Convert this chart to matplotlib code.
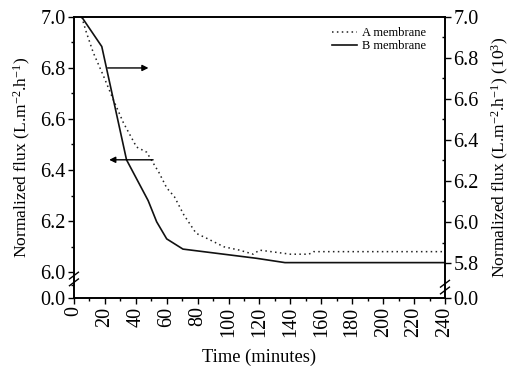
import matplotlib
matplotlib.use("Agg")
import matplotlib.pyplot as plt
import numpy as np

plt.rcParams['font.family'] = ['Liberation Serif', 'DejaVu Serif']
plt.rcParams['mathtext.fontset'] = 'custom'
plt.rcParams['mathtext.rm'] = 'Liberation Serif'
plt.rcParams['mathtext.it'] = 'Liberation Serif:italic'
plt.rcParams['font.size'] = 11

# data (normalized flux)
t_a = [5, 8, 12.5, 19, 25.5, 32, 40.5, 47, 55, 60, 65, 71, 79, 86, 97, 107, 116, 120, 140, 152, 155, 240]
flux_a = [7.0, 6.94, 6.86, 6.77, 6.675, 6.585, 6.49, 6.47, 6.39, 6.33, 6.295, 6.225, 6.152, 6.132,
          6.099, 6.086, 6.07, 6.086, 6.07, 6.07, 6.08, 6.08]
t_b = [5, 18, 34, 48, 53.5, 60, 70.5, 118, 136.5, 240]
flux_b = [7.0, 6.884, 6.44, 6.28, 6.197, 6.13, 6.09, 6.054, 6.037, 6.037]

x_ticks = np.arange(0, 241, 20)
left_ticks = [6.0, 6.2, 6.4, 6.6, 6.8, 7.0]
right_ticks = [5.8, 6.0, 6.2, 6.4, 6.6, 6.8, 7.0]

# axis break: the 0.0 tick sits just below the 6.0 (left) / 5.8 (right) tick
LEFT_ZERO = 5.898
RIGHT_ZERO = 5.629

fig = plt.figure(figsize=(5.1, 3.68), dpi=100)
ax = fig.add_axes([0.145, 0.19, 0.7275, 0.764])

ax.plot(t_a, flux_a, color='#222222', linestyle=(0, (1, 2.2)), linewidth=1.1, label='A membrane')
ax.plot(t_b, flux_b, color='#111111', linestyle='-', linewidth=1.2, label='B membrane')

ax.set_xlim(0, 240)
ax.set_ylim(LEFT_ZERO, 7.0)
ax.set_xticks(x_ticks)
ax.set_xticklabels([str(v) for v in x_ticks], rotation=90)
ax.set_xticks(np.arange(10, 240, 20), minor=True)
ax.set_yticks([LEFT_ZERO] + left_ticks)
ax.set_yticklabels(['0.0'] + ['%.1f' % v for v in left_ticks])
ax.set_yticks([5.95] + list(np.arange(6.1, 7.0, 0.2)), minor=True)
ax.tick_params(axis='both', which='major', direction='out', length=4, width=1, labelsize=14.5, pad=2)
ax.tick_params(axis='both', which='minor', direction='out', length=2.5, width=1)
for s in ax.spines.values():
    s.set_linewidth(1.2)

ax.set_xlabel('Time (minutes)', fontsize=13.3, labelpad=9)
ax.set_ylabel('Normalized flux (L.m$^{-2}$.h$^{-1}$)', fontsize=12.6, labelpad=5)

ax2 = ax.twinx()
ax2.set_ylim(RIGHT_ZERO, 7.0)
ax2.set_yticks([RIGHT_ZERO] + right_ticks)
ax2.set_yticklabels(['0.0'] + ['%.1f' % v for v in right_ticks])
ax2.set_yticks(list(np.arange(5.9, 7.0, 0.2)), minor=True)
ax2.tick_params(axis='y', which='major', direction='out', length=4, width=1, labelsize=14.5, pad=2)
ax2.tick_params(axis='y', which='minor', direction='in', length=2.5, width=1)
ax2.set_ylabel('Normalized flux (L.m$^{-2}$.h$^{-1}$) (10$^{3}$)', fontsize=12.6, labelpad=8)
for s in ax2.spines.values():
    s.set_linewidth(1.2)

# break marks on the spines
def break_mark(xa, ya):
    for dy in (-0.012, 0.012):
        ax.plot([xa - 0.012, xa + 0.012], [ya + dy - 0.012, ya + dy + 0.012],
                transform=ax.transAxes, color='black', lw=1.0, clip_on=False)

break_mark(0.0, 0.068)
break_mark(1.0, 0.039)

# arrows to the axes
ax.annotate('', xy=(50, 6.80), xytext=(20, 6.80),
            arrowprops=dict(arrowstyle='-|>', color='black', lw=1.0, mutation_scale=9))
ax.annotate('', xy=(21, 6.44), xytext=(53, 6.44),
            arrowprops=dict(arrowstyle='-|>', color='black', lw=1.0, mutation_scale=9))

ax.legend(loc='upper right', bbox_to_anchor=(0.97, 0.99), frameon=False, fontsize=9,
          handlelength=2.0, handletextpad=0.4, labelspacing=0.1, borderaxespad=0.2)

fig.savefig('out.png', dpi=100)
